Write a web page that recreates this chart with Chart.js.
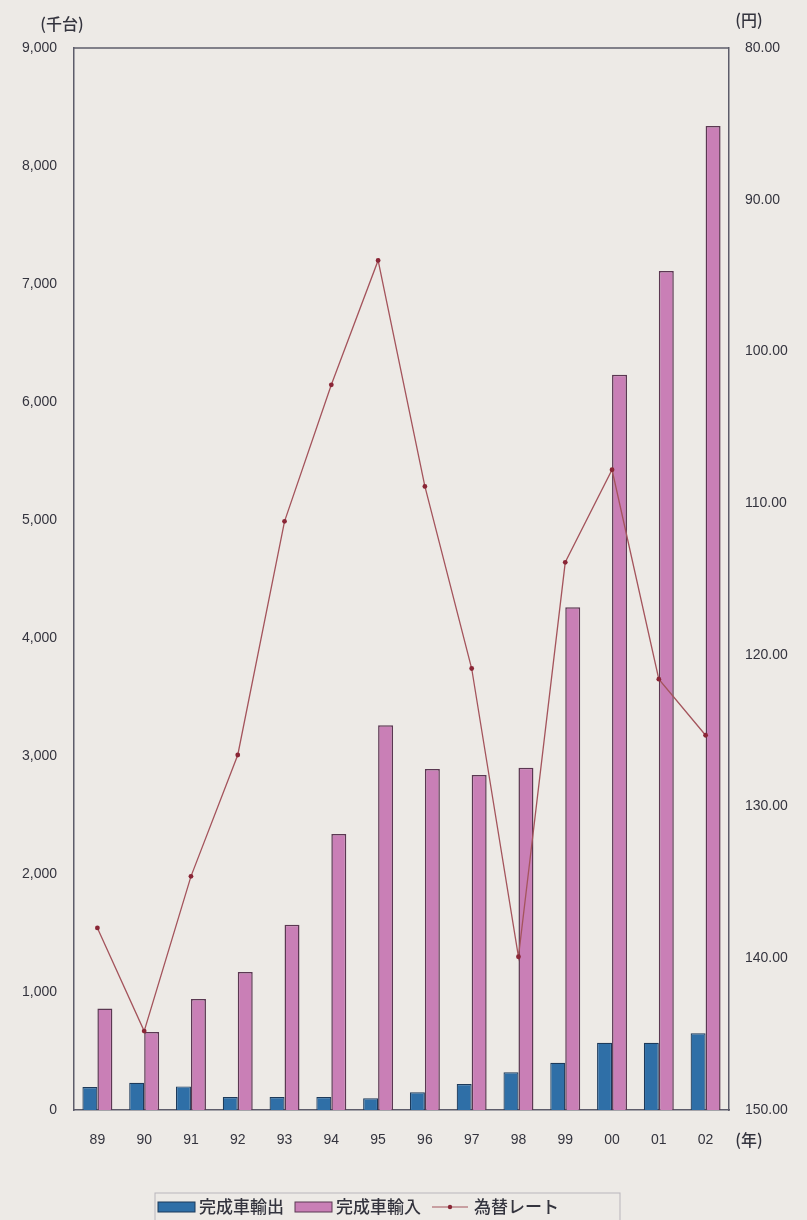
<!DOCTYPE html>
<html>
<head>
<meta charset="utf-8">
<script src="https://cdn.jsdelivr.net/npm/chart.js@4/dist/chart.umd.min.js"></script>
<style>
  html, body { margin: 0; padding: 0; background: #edeae6; }
</style>
</head>
<body>
<canvas id="chart1" width="807" height="1220"></canvas>
<script>
// データ（年, 千台, 円）
var YEARS = ['89', '90', '91', '92', '93', '94', '95', '96', '97', '98', '99', '00', '01', '02'];
var EXPORTS = [195, 230, 200, 110, 110, 110, 100, 150, 220, 320, 400, 570, 570, 650];
var IMPORTS = [860, 660, 940, 1170, 1570, 2340, 3260, 2890, 2840, 2900, 4260, 6230, 7110, 8340];
var RATE = [138.0, 144.8, 134.6, 126.6, 111.2, 102.2, 94.0, 108.9, 120.9, 139.9, 113.9, 107.8, 121.6, 125.3];
var LABELS = ['完成車輸出', '完成車輸入', '為替レート'];

var BLUE = '#2f6fa7', BLUE_LINE = '#1d3a5a',
    PINK = '#c97fb6', PINK_LINE = '#5b3852',
    RED = '#a4545c', RED_PT = '#8a2636',
    TXT = '#34343e', FRAME = '#5d5c6a';

var NUM_FONT = "'Liberation Sans', Arial, sans-serif";
var JP_FONT = "'Noto Sans CJK JP', 'Noto Sans', sans-serif";

// 背景・枠・単位・凡例
var decor = {
    id: 'decor',
    beforeDraw: function (chart) {
        var c = chart.ctx;
        c.save();
        c.fillStyle = '#edeae6';
        c.fillRect(0, 0, chart.width, chart.height);
        c.restore();
    },
    afterDraw: function (chart) {
        var c = chart.ctx, a = chart.chartArea;
        c.save();
        c.strokeStyle = FRAME;
        c.lineWidth = 1.5;
        c.beginPath();
        c.moveTo(a.left, a.top);
        c.lineTo(a.right, a.top);
        c.stroke();

        c.fillStyle = TXT;
        c.font = '500 16px ' + JP_FONT;
        c.textBaseline = 'middle';
        c.textAlign = 'center';
        c.fillText('(千台)', 62, 24);
        c.fillText('(円)', 749, 20);
        c.fillText('(年)', 749, 1140);

        // 凡例
        var x0 = 155, y0 = 1193;
        c.strokeStyle = '#b9b5bb';
        c.lineWidth = 1;
        c.strokeRect(x0, y0, 465, 32);
        var cy = 1207;
        c.font = '500 17px ' + JP_FONT;
        c.textAlign = 'left';

        c.fillStyle = BLUE; c.strokeStyle = BLUE_LINE;
        c.fillRect(158, cy - 5, 37, 10); c.strokeRect(158, cy - 5, 37, 10);
        c.fillStyle = TXT; c.fillText(LABELS[0], 199, cy);

        c.fillStyle = PINK; c.strokeStyle = PINK_LINE;
        c.fillRect(295, cy - 5, 37, 10); c.strokeRect(295, cy - 5, 37, 10);
        c.fillStyle = TXT; c.fillText(LABELS[1], 336, cy);

        c.strokeStyle = RED; c.lineWidth = 1.2;
        c.beginPath(); c.moveTo(432, cy); c.lineTo(468, cy); c.stroke();
        c.fillStyle = RED_PT;
        c.beginPath(); c.arc(450, cy, 2.2, 0, Math.PI * 2); c.fill();
        c.fillStyle = TXT; c.fillText(LABELS[2], 474, cy);
        c.restore();
    }
};

var ctx1 = document.getElementById('chart1').getContext('2d');
var chart1 = new Chart(ctx1, {
    type: 'bar',
    data: {
        labels: YEARS,
        datasets: [
            {
                type: 'line',
                label: LABELS[2],
                data: RATE,
                yAxisID: 'y1',
                order: 0,
                borderColor: RED,
                borderWidth: 1.3,
                tension: 0,
                pointRadius: 2.4,
                pointBackgroundColor: RED_PT,
                pointBorderWidth: 0
            },
            {
                label: LABELS[0],
                data: EXPORTS,
                yAxisID: 'y',
                order: 1,
                backgroundColor: BLUE,
                borderColor: BLUE_LINE,
                borderWidth: 1.2,
                barPercentage: 1,
                categoryPercentage: 0.64
            },
            {
                label: LABELS[1],
                data: IMPORTS,
                yAxisID: 'y',
                order: 1,
                backgroundColor: PINK,
                borderColor: PINK_LINE,
                borderWidth: 1.5,
                barPercentage: 1,
                categoryPercentage: 0.64
            }
        ]
    },
    options: {
        responsive: false,
        animation: false,
        layout: { padding: { top: 48, bottom: 60, left: 0, right: 0 } },
        plugins: {
            legend: { display: false },
            tooltip: { enabled: false }
        },
        scales: {
            x: {
                grid: { display: false, drawTicks: false },
                border: { display: true, color: FRAME, width: 1.5 },
                ticks: { color: TXT, padding: 22, font: { family: NUM_FONT, size: 14 } },
                afterFit: function (s) { s.height = 50; }
            },
            y: {
                position: 'left',
                min: 0, max: 9000,
                grid: { display: false, drawTicks: false },
                border: { display: true, color: FRAME, width: 1.5 },
                ticks: {
                    stepSize: 1000, color: TXT, padding: 17,
                    font: { family: NUM_FONT, size: 14 },
                    callback: function (v) { return v.toLocaleString('en-US'); }
                },
                afterFit: function (s) { s.width = 74; }
            },
            y1: {
                position: 'right',
                reverse: true,
                min: 80, max: 150,
                grid: { display: false, drawTicks: false },
                border: { display: true, color: FRAME, width: 1.5 },
                ticks: {
                    stepSize: 10, color: TXT, padding: 16,
                    font: { family: NUM_FONT, size: 14 },
                    callback: function (v) { return v.toFixed(2); }
                },
                afterFit: function (s) { s.width = 78; }
            }
        }
    },
    plugins: [decor]
});
</script>
</body>
</html>
